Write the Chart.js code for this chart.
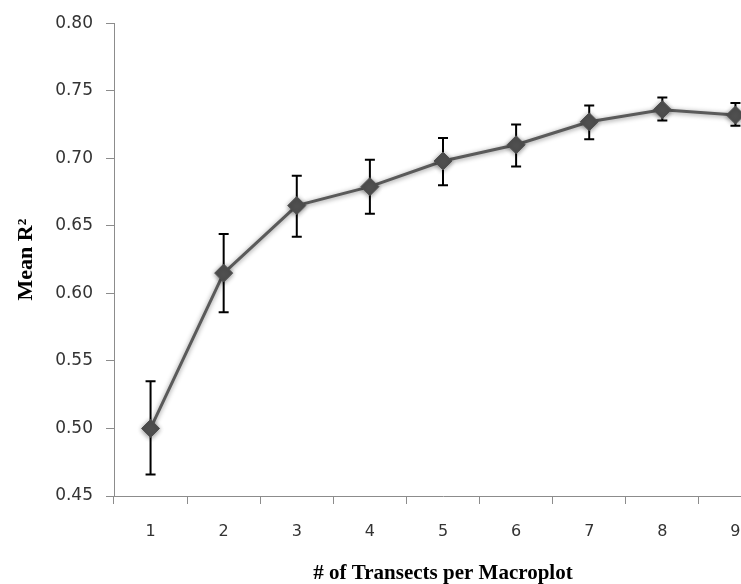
<!DOCTYPE html>
<html lang="en">
<head>
  <meta charset="UTF-8" />
  <title>Mean R2 by Transects</title>
  <script src="https://cdn.jsdelivr.net/npm/chart.js"></script>
  <style>
    html, body {
      margin: 0;
      background: #fff;
      overflow: hidden;
    }
    #wrap {
      width: 800px;
      height: 584px;
    }
  </style>
</head>
<body>
<div id="wrap">
  <canvas id="r2Chart" width="800" height="584"></canvas>
</div>

<script>
  // values
  const transects = ['1', '2', '3', '4', '5', '6', '7', '8', '9'];
  const meanR2 = [0.500, 0.615, 0.665, 0.679, 0.698, 0.710, 0.727, 0.736, 0.732];
  const errLow = [0.466, 0.586, 0.642, 0.659, 0.680, 0.694, 0.714, 0.728, 0.724];
  const errHigh = [0.535, 0.644, 0.687, 0.699, 0.715, 0.725, 0.739, 0.745, 0.741];
  const yTicks = [0.45, 0.50, 0.55, 0.60, 0.65, 0.70, 0.75, 0.80];

  // error bars, drawn behind the markers
  const errorBars = {
    id: 'errorBars',
    beforeDatasetsDraw(chart) {
      const { ctx, scales } = chart;
      const x = scales.x, y = scales.y;
      ctx.save();
      ctx.strokeStyle = '#000';
      ctx.lineWidth = 2;
      transects.forEach((t, i) => {
        const px = x.getPixelForValue(i);
        const top = y.getPixelForValue(errHigh[i]);
        const bot = y.getPixelForValue(errLow[i]);
        ctx.beginPath();
        ctx.moveTo(px, top); ctx.lineTo(px, bot);
        ctx.moveTo(px - 5, top); ctx.lineTo(px + 5, top);
        ctx.moveTo(px - 5, bot); ctx.lineTo(px + 5, bot);
        ctx.stroke();
      });
      ctx.restore();
    }
  };

  // soft shadow round the line and markers
  const glow = {
    id: 'glow',
    beforeDatasetDraw(chart) {
      const ctx = chart.ctx;
      ctx.save();
      ctx.shadowColor = 'rgba(0,0,0,0.45)';
      ctx.shadowBlur = 5;
      ctx.shadowOffsetY = 1;
    },
    afterDatasetDraw(chart) {
      chart.ctx.restore();
    }
  };

  new Chart(document.getElementById('r2Chart'), {
    type: 'line',
    data: {
      labels: transects,
      datasets: [{
        data: meanR2,
        borderColor: '#5a5a5a',
        borderWidth: 3,
        pointStyle: 'rectRot',
        pointRadius: 9,
        pointBackgroundColor: '#505050',
        pointBorderColor: '#505050',
        pointBorderWidth: 1,
        tension: 0
      }]
    },
    options: {
      responsive: false,
      animation: false,
      layout: { padding: { top: 21, right: 28, left: 0, bottom: 0 } },
      plugins: {
        legend: { display: false },
        tooltip: { enabled: false }
      },
      scales: {
        x: {
          type: 'category',
          offset: true,
          afterFit(scale) { scale.height = 88; },
          grid: {
            offset: true,
            drawOnChartArea: false,
            color: '#8c8c8c',
            tickLength: 8
          },
          border: { color: '#8c8c8c', width: 1 },
          ticks: {
            color: '#333',
            padding: 18,
            font: { family: 'DejaVu Sans', size: 16 }
          },
          title: {
            display: true,
            text: '# of Transects per Macroplot',
            color: '#000',
            padding: { top: 10, bottom: -2 },
            font: { family: 'Liberation Serif', size: 21, weight: 'bold' }
          }
        },
        y: {
          min: 0.45,
          max: 0.80,
          afterFit(scale) { scale.width = 114; },
          afterBuildTicks(scale) {
            scale.ticks = yTicks.map(v => ({ value: v }));
          },
          grid: {
            drawOnChartArea: false,
            color: '#8c8c8c',
            tickLength: 8
          },
          border: { color: '#8c8c8c', width: 1 },
          ticks: {
            color: '#333',
            padding: 13,
            font: { family: 'DejaVu Sans', size: 17 },
            callback: v => v.toFixed(2)
          },
          title: {
            display: true,
            text: 'Mean R²',
            color: '#000',
            padding: { top: 13, bottom: 4 },
            font: { family: 'Liberation Serif', size: 22, weight: 'bold' }
          }
        }
      }
    },
    plugins: [errorBars, glow]
  });
</script>
</body>
</html>
